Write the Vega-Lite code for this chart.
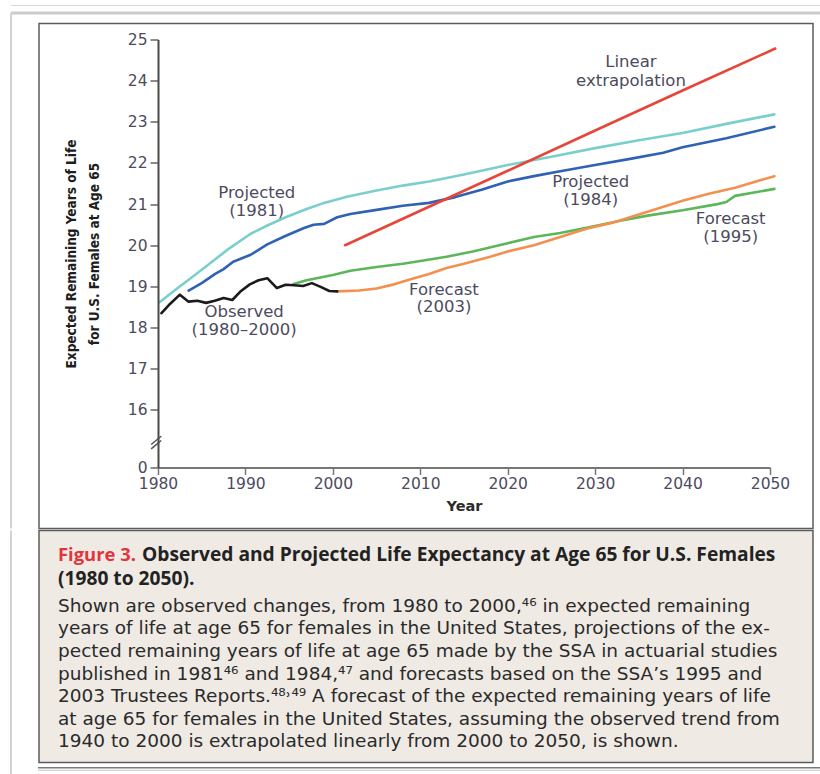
{
  "$schema": "https://vega.github.io/schema/vega-lite/v6.json",
  "padding": {"left": 9, "top": 4.5, "right": 0, "bottom": 0},
  "background": "white",
  "spacing": 0,
  "config": {"view": {"stroke": null}, "font": "DejaVu Sans"},
  "datasets": {
    "lines": [
      {"series": "Projected (1981)", "year": 1980.2, "value": 18.62},
      {"series": "Projected (1981)", "year": 1982, "value": 18.92},
      {"series": "Projected (1981)", "year": 1984, "value": 19.24},
      {"series": "Projected (1981)", "year": 1986, "value": 19.57},
      {"series": "Projected (1981)", "year": 1988, "value": 19.9},
      {"series": "Projected (1981)", "year": 1990.6, "value": 20.28},
      {"series": "Projected (1981)", "year": 1992.5, "value": 20.48},
      {"series": "Projected (1981)", "year": 1994.6, "value": 20.68},
      {"series": "Projected (1981)", "year": 1997, "value": 20.88},
      {"series": "Projected (1981)", "year": 1999, "value": 21.03},
      {"series": "Projected (1981)", "year": 2001.6, "value": 21.18},
      {"series": "Projected (1981)", "year": 2005, "value": 21.33},
      {"series": "Projected (1981)", "year": 2008, "value": 21.45},
      {"series": "Projected (1981)", "year": 2011, "value": 21.55},
      {"series": "Projected (1981)", "year": 2015, "value": 21.72},
      {"series": "Projected (1981)", "year": 2020, "value": 21.95},
      {"series": "Projected (1981)", "year": 2025, "value": 22.15},
      {"series": "Projected (1981)", "year": 2030, "value": 22.36},
      {"series": "Projected (1981)", "year": 2035, "value": 22.55},
      {"series": "Projected (1981)", "year": 2040, "value": 22.73},
      {"series": "Projected (1981)", "year": 2045, "value": 22.95},
      {"series": "Projected (1981)", "year": 2050.5, "value": 23.18},

      {"series": "Projected (1984)", "year": 1983.5, "value": 18.9},
      {"series": "Projected (1984)", "year": 1985, "value": 19.08},
      {"series": "Projected (1984)", "year": 1986.5, "value": 19.3},
      {"series": "Projected (1984)", "year": 1987.5, "value": 19.42},
      {"series": "Projected (1984)", "year": 1988.6, "value": 19.6},
      {"series": "Projected (1984)", "year": 1990.6, "value": 19.77},
      {"series": "Projected (1984)", "year": 1992.5, "value": 20.02},
      {"series": "Projected (1984)", "year": 1994.5, "value": 20.22},
      {"series": "Projected (1984)", "year": 1996.7, "value": 20.42},
      {"series": "Projected (1984)", "year": 1997.8, "value": 20.5},
      {"series": "Projected (1984)", "year": 1999, "value": 20.52},
      {"series": "Projected (1984)", "year": 2000.5, "value": 20.68},
      {"series": "Projected (1984)", "year": 2002, "value": 20.76},
      {"series": "Projected (1984)", "year": 2005, "value": 20.86},
      {"series": "Projected (1984)", "year": 2008, "value": 20.96},
      {"series": "Projected (1984)", "year": 2011, "value": 21.03},
      {"series": "Projected (1984)", "year": 2014, "value": 21.17},
      {"series": "Projected (1984)", "year": 2017, "value": 21.35},
      {"series": "Projected (1984)", "year": 2020, "value": 21.55},
      {"series": "Projected (1984)", "year": 2023, "value": 21.68},
      {"series": "Projected (1984)", "year": 2026, "value": 21.8},
      {"series": "Projected (1984)", "year": 2030, "value": 21.95},
      {"series": "Projected (1984)", "year": 2034, "value": 22.1},
      {"series": "Projected (1984)", "year": 2037.8, "value": 22.25},
      {"series": "Projected (1984)", "year": 2040, "value": 22.38},
      {"series": "Projected (1984)", "year": 2045, "value": 22.6},
      {"series": "Projected (1984)", "year": 2050.5, "value": 22.88},

      {"series": "Forecast (1995)", "year": 1995.5, "value": 19.06},
      {"series": "Forecast (1995)", "year": 1997, "value": 19.15},
      {"series": "Forecast (1995)", "year": 2000, "value": 19.28},
      {"series": "Forecast (1995)", "year": 2002, "value": 19.38},
      {"series": "Forecast (1995)", "year": 2005, "value": 19.47},
      {"series": "Forecast (1995)", "year": 2008, "value": 19.55},
      {"series": "Forecast (1995)", "year": 2010, "value": 19.62},
      {"series": "Forecast (1995)", "year": 2013, "value": 19.72},
      {"series": "Forecast (1995)", "year": 2016, "value": 19.85},
      {"series": "Forecast (1995)", "year": 2020, "value": 20.05},
      {"series": "Forecast (1995)", "year": 2023, "value": 20.2},
      {"series": "Forecast (1995)", "year": 2026, "value": 20.3},
      {"series": "Forecast (1995)", "year": 2030, "value": 20.47},
      {"series": "Forecast (1995)", "year": 2033, "value": 20.6},
      {"series": "Forecast (1995)", "year": 2036, "value": 20.72},
      {"series": "Forecast (1995)", "year": 2040, "value": 20.85},
      {"series": "Forecast (1995)", "year": 2044, "value": 21.0},
      {"series": "Forecast (1995)", "year": 2045, "value": 21.05},
      {"series": "Forecast (1995)", "year": 2046, "value": 21.2},
      {"series": "Forecast (1995)", "year": 2050.5, "value": 21.37},

      {"series": "Forecast (2003)", "year": 2000.5, "value": 18.88},
      {"series": "Forecast (2003)", "year": 2003, "value": 18.9},
      {"series": "Forecast (2003)", "year": 2005, "value": 18.95},
      {"series": "Forecast (2003)", "year": 2007, "value": 19.05},
      {"series": "Forecast (2003)", "year": 2009, "value": 19.18},
      {"series": "Forecast (2003)", "year": 2011, "value": 19.3},
      {"series": "Forecast (2003)", "year": 2013, "value": 19.45},
      {"series": "Forecast (2003)", "year": 2015, "value": 19.55},
      {"series": "Forecast (2003)", "year": 2018, "value": 19.72},
      {"series": "Forecast (2003)", "year": 2020, "value": 19.85},
      {"series": "Forecast (2003)", "year": 2023, "value": 20.0},
      {"series": "Forecast (2003)", "year": 2026, "value": 20.2},
      {"series": "Forecast (2003)", "year": 2029, "value": 20.4},
      {"series": "Forecast (2003)", "year": 2032, "value": 20.55},
      {"series": "Forecast (2003)", "year": 2035, "value": 20.75},
      {"series": "Forecast (2003)", "year": 2038, "value": 20.95},
      {"series": "Forecast (2003)", "year": 2040, "value": 21.08},
      {"series": "Forecast (2003)", "year": 2043, "value": 21.25},
      {"series": "Forecast (2003)", "year": 2046, "value": 21.4},
      {"series": "Forecast (2003)", "year": 2050.5, "value": 21.68},

      {"series": "Observed", "year": 1980.4, "value": 18.35},
      {"series": "Observed", "year": 1981.4, "value": 18.58},
      {"series": "Observed", "year": 1982.5, "value": 18.8},
      {"series": "Observed", "year": 1983.5, "value": 18.63},
      {"series": "Observed", "year": 1984.5, "value": 18.65},
      {"series": "Observed", "year": 1985.5, "value": 18.6},
      {"series": "Observed", "year": 1986.5, "value": 18.65},
      {"series": "Observed", "year": 1987.5, "value": 18.72},
      {"series": "Observed", "year": 1988.5, "value": 18.67},
      {"series": "Observed", "year": 1989.5, "value": 18.89},
      {"series": "Observed", "year": 1990.5, "value": 19.05},
      {"series": "Observed", "year": 1991.5, "value": 19.15},
      {"series": "Observed", "year": 1992.5, "value": 19.2},
      {"series": "Observed", "year": 1993.6, "value": 18.96},
      {"series": "Observed", "year": 1994.6, "value": 19.04},
      {"series": "Observed", "year": 1995.6, "value": 19.03},
      {"series": "Observed", "year": 1996.6, "value": 19.01},
      {"series": "Observed", "year": 1997.6, "value": 19.08},
      {"series": "Observed", "year": 1998.6, "value": 18.99},
      {"series": "Observed", "year": 1999.6, "value": 18.89},
      {"series": "Observed", "year": 2000.5, "value": 18.88},

      {"series": "Linear extrapolation", "year": 2001.4, "value": 20.0},
      {"series": "Linear extrapolation", "year": 2010, "value": 20.84},
      {"series": "Linear extrapolation", "year": 2020, "value": 21.81},
      {"series": "Linear extrapolation", "year": 2030, "value": 22.79},
      {"series": "Linear extrapolation", "year": 2040, "value": 23.76},
      {"series": "Linear extrapolation", "year": 2050.6, "value": 24.78}
    ],
    "labels": [
      {"text": "Projected", "year": 1991.3, "value": 21.27},
      {"text": "(1981)", "year": 1991.3, "value": 20.84},
      {"text": "Linear", "year": 2034.1, "value": 24.45},
      {"text": "extrapolation", "year": 2034.1, "value": 24.0},
      {"text": "Projected", "year": 2029.5, "value": 21.53},
      {"text": "(1984)", "year": 2029.5, "value": 21.09},
      {"text": "Forecast", "year": 2045.5, "value": 20.64},
      {"text": "(1995)", "year": 2045.5, "value": 20.21},
      {"text": "Forecast", "year": 2012.7, "value": 18.92},
      {"text": "(2003)", "year": 2012.7, "value": 18.49},
      {"text": "Observed", "year": 1989.85, "value": 18.37},
      {"text": "(1980–2000)", "year": 1989.85, "value": 17.93}
    ],
    "caption": [
      {"line": 1, "kind": "fig", "text": "Figure 3."},
      {"line": 1, "kind": "head", "text": "Observed and Projected Life Expectancy at Age 65 for U.S. Females"},
      {"line": 2, "kind": "head2", "text": "(1980 to 2050)."},
      {"line": 3, "kind": "body", "text": "Shown are observed changes, from 1980 to 2000,⁴⁶ in expected remaining"},
      {"line": 4, "kind": "body", "text": "years of life at age 65 for females in the United States, projections of the ex-"},
      {"line": 5, "kind": "body", "text": "pected remaining years of life at age 65 made by the SSA in actuarial studies"},
      {"line": 6, "kind": "body", "text": "published in 1981⁴⁶ and 1984,⁴⁷ and forecasts based on the SSA’s 1995 and"},
      {"line": 7, "kind": "body", "text": "2003 Trustees Reports.⁴⁸˒⁴⁹ A forecast of the expected remaining years of life"},
      {"line": 8, "kind": "body", "text": "at age 65 for females in the United States, assuming the observed trend from"},
      {"line": 9, "kind": "body", "text": "1940 to 2000 is extrapolated linearly from 2000 to 2050, is shown."}
    ]
  },
  "vconcat": [
    {
      "width": 612,
      "height": 428,
      "layer": [
        {
          "data": {"values": [{}]},
          "mark": {"type": "rect", "filled": false, "stroke": "#5c5c5c", "strokeWidth": 1.5},
          "encoding": {
            "x": {"datum": 1966.39, "type": "quantitative"},
            "x2": {"datum": 2054.92},
            "y": {"datum": 25.389, "type": "quantitative"},
            "y2": {"datum": 13.118}
          }
        },
        {
          "data": {"values": [{}]},
          "mark": {"type": "rule", "stroke": "#d6d6d6", "strokeWidth": 1},
          "encoding": {
            "x": {"datum": 1963.19, "type": "quantitative"},
            "x2": {"datum": 2055.83},
            "y": {"datum": 25.826, "type": "quantitative"}
          }
        },
        {
          "data": {"values": [{}]},
          "mark": {"type": "rule", "stroke": "#cbcbcb", "strokeWidth": 3},
          "encoding": {
            "x": {"datum": 1963.19, "type": "quantitative"},
            "x2": {"datum": 2055.83},
            "y": {"datum": 25.644, "type": "quantitative"}
          }
        },
        {
          "data": {"values": [{}]},
          "mark": {"type": "rule", "stroke": "#c4c4c4", "strokeWidth": 1.5},
          "encoding": {
            "x": {"datum": 1963.19, "type": "quantitative"},
            "y": {"datum": 25.644, "type": "quantitative"},
            "y2": {"datum": 13.118}
          }
        },
        {
          "data": {"name": "lines"},
          "mark": {"type": "line", "strokeWidth": 2.6, "strokeJoin": "round", "strokeCap": "round"},
          "encoding": {
            "x": {
              "field": "year",
              "type": "quantitative",
              "scale": {"domain": [1980, 2050], "nice": false, "zero": false},
              "axis": {
                "values": [1980, 1990, 2000, 2010, 2020, 2030, 2040, 2050],
                "format": "d",
                "title": "Year",
                "titleFont": "DejaVu Sans",
                "titleFontSize": 14.5,
                "titleFontWeight": "bold",
                "titleColor": "#2b2b2b",
                "titlePadding": 7,
                "labelFont": "DejaVu Sans",
                "labelFontSize": 15.5,
                "labelColor": "#4d4b5e",
                "labelPadding": 2,
                "labelFlush": false,
                "domainColor": "#777777",
                "domainWidth": 2,
                "tickColor": "#777777",
                "tickWidth": 1.5,
                "tickSize": 7,
                "grid": false,
                "zindex": 1
              }
            },
            "y": {
              "field": "value",
              "type": "quantitative",
              "scale": {"domain": [14.6, 25], "nice": false, "zero": false},
              "axis": {
                "values": [14.6, 16, 17, 18, 19, 20, 21, 22, 23, 24, 25],
                "format": "d",
                "labelExpr": "datum.value < 15 ? '0' : datum.label",
                "title": ["Expected Remaining Years of Life", "for U.S. Females at Age 65"],
                "titleFont": "DejaVu Sans Condensed, sans-serif",
                "titleFontSize": 13.5,
                "titleFontWeight": "bold",
                "titleColor": "#1e1e1e",
                "titleLineHeight": 23,
                "titlePadding": 26,
                "labelFont": "DejaVu Sans",
                "labelFontSize": 15.5,
                "labelColor": "#4d4b5e",
                "labelPadding": 3,
                "labelFlush": false,
                "domainColor": "#4a4a4a",
                "domainWidth": 2,
                "tickColor": "#666666",
                "tickWidth": 1.5,
                "tickSize": 8,
                "grid": false,
                "zindex": 1
              }
            },
            "color": {
              "field": "series",
              "type": "nominal",
              "scale": {
                "domain": ["Projected (1981)", "Projected (1984)", "Forecast (1995)", "Forecast (2003)", "Observed", "Linear extrapolation"],
                "range": ["#7acfcc", "#2f62b4", "#5cb65a", "#f2914f", "#1b1b1b", "#e8453a"]
              },
              "legend": null
            },
            "order": {"field": "year"}
          }
        },
        {
          "data": {"values": [{}]},
          "mark": {"type": "rule", "stroke": "#555555", "strokeWidth": 1.5},
          "encoding": {
            "x": {"datum": 1979.22, "type": "quantitative"},
            "x2": {"datum": 1980.37},
            "y": {"datum": 15.054, "type": "quantitative"},
            "y2": {"datum": 15.256}
          }
        },
        {
          "data": {"values": [{}]},
          "mark": {"type": "rule", "stroke": "#555555", "strokeWidth": 1.5},
          "encoding": {
            "x": {"datum": 1979.22, "type": "quantitative"},
            "x2": {"datum": 1980.37},
            "y": {"datum": 15.159, "type": "quantitative"},
            "y2": {"datum": 15.36}
          }
        },
        {
          "data": {"name": "labels"},
          "mark": {"type": "text", "font": "DejaVu Sans", "fontSize": 16.5, "color": "#4d4b5e", "align": "center", "baseline": "middle"},
          "encoding": {
            "x": {"field": "year", "type": "quantitative"},
            "y": {"field": "value", "type": "quantitative"},
            "text": {"field": "text"}
          }
        }
      ]
    },
    {
      "width": 612,
      "height": 232,
      "data": {"name": "caption"},
      "layer": [
        {
          "data": {"values": [{}]},
          "mark": {"type": "rect", "fill": "#efebe4", "stroke": "#5c5c5c", "strokeWidth": 1.5},
          "encoding": {
            "x": {"datum": -0.19444, "type": "quantitative", "scale": {"domain": [0, 1], "nice": false, "zero": false}, "axis": null},
            "x2": {"datum": 1.07026},
            "y": {"datum": -0.106, "type": "quantitative", "scale": {"domain": [-0.106, 10.159], "reverse": true, "nice": false, "zero": false}, "axis": null},
            "y2": {"datum": 10.159}
          }
        },
        {
          "transform": [{"filter": "datum.kind === 'fig'"}],
          "mark": {"type": "text", "font": "Open Sans", "fontSize": 18.4, "fontWeight": "bold", "color": "#e3343c", "align": "left", "baseline": "middle", "dx": 19, "dy": -0.5},
          "encoding": {
            "x": {"datum": -0.19444, "type": "quantitative"},
            "y": {"field": "line", "type": "quantitative"},
            "text": {"field": "text"}
          }
        },
        {
          "transform": [{"filter": "datum.kind === 'head'"}],
          "mark": {"type": "text", "font": "Open Sans", "fontSize": 19.2, "fontWeight": "bold", "color": "#222222", "align": "left", "baseline": "middle", "dx": 103, "dy": -0.5},
          "encoding": {
            "x": {"datum": -0.19444, "type": "quantitative"},
            "y": {"field": "line", "type": "quantitative"},
            "text": {"field": "text"}
          }
        },
        {
          "transform": [{"filter": "datum.kind === 'head2'"}],
          "mark": {"type": "text", "font": "Open Sans", "fontSize": 19.2, "fontWeight": "bold", "color": "#222222", "align": "left", "baseline": "middle", "dx": 19, "dy": 1},
          "encoding": {
            "x": {"datum": -0.19444, "type": "quantitative"},
            "y": {"field": "line", "type": "quantitative"},
            "text": {"field": "text"}
          }
        },
        {
          "transform": [{"filter": "datum.kind === 'body'"}],
          "mark": {"type": "text", "font": "DejaVu Sans", "fontSize": 18.5, "color": "#2a2a2a", "align": "left", "baseline": "middle", "dx": 19, "dy": 5},
          "encoding": {
            "x": {"datum": -0.19444, "type": "quantitative"},
            "y": {"field": "line", "type": "quantitative"},
            "text": {"field": "text"}
          }
        },
        {
          "data": {"values": [{}]},
          "mark": {"type": "rule", "stroke": "#c4c4c4", "strokeWidth": 1.5},
          "encoding": {
            "x": {"datum": -0.2402, "type": "quantitative"},
            "y": {"datum": -0.106, "type": "quantitative"},
            "y2": {"datum": 10.746}
          }
        },
        {
          "data": {"values": [{}]},
          "mark": {"type": "rule", "stroke": "#7a7a7a", "strokeWidth": 1.5},
          "encoding": {
            "x": {"datum": -0.19608, "type": "quantitative"},
            "x2": {"datum": 1.08333},
            "y": {"datum": 10.392, "type": "quantitative"}
          }
        },
        {
          "data": {"values": [{}]},
          "mark": {"type": "rule", "stroke": "#c8c8c8", "strokeWidth": 1},
          "encoding": {
            "x": {"datum": -0.19608, "type": "quantitative"},
            "x2": {"datum": 1.08333},
            "y": {"datum": 10.503, "type": "quantitative"}
          }
        }
      ]
    }
  ]
}
